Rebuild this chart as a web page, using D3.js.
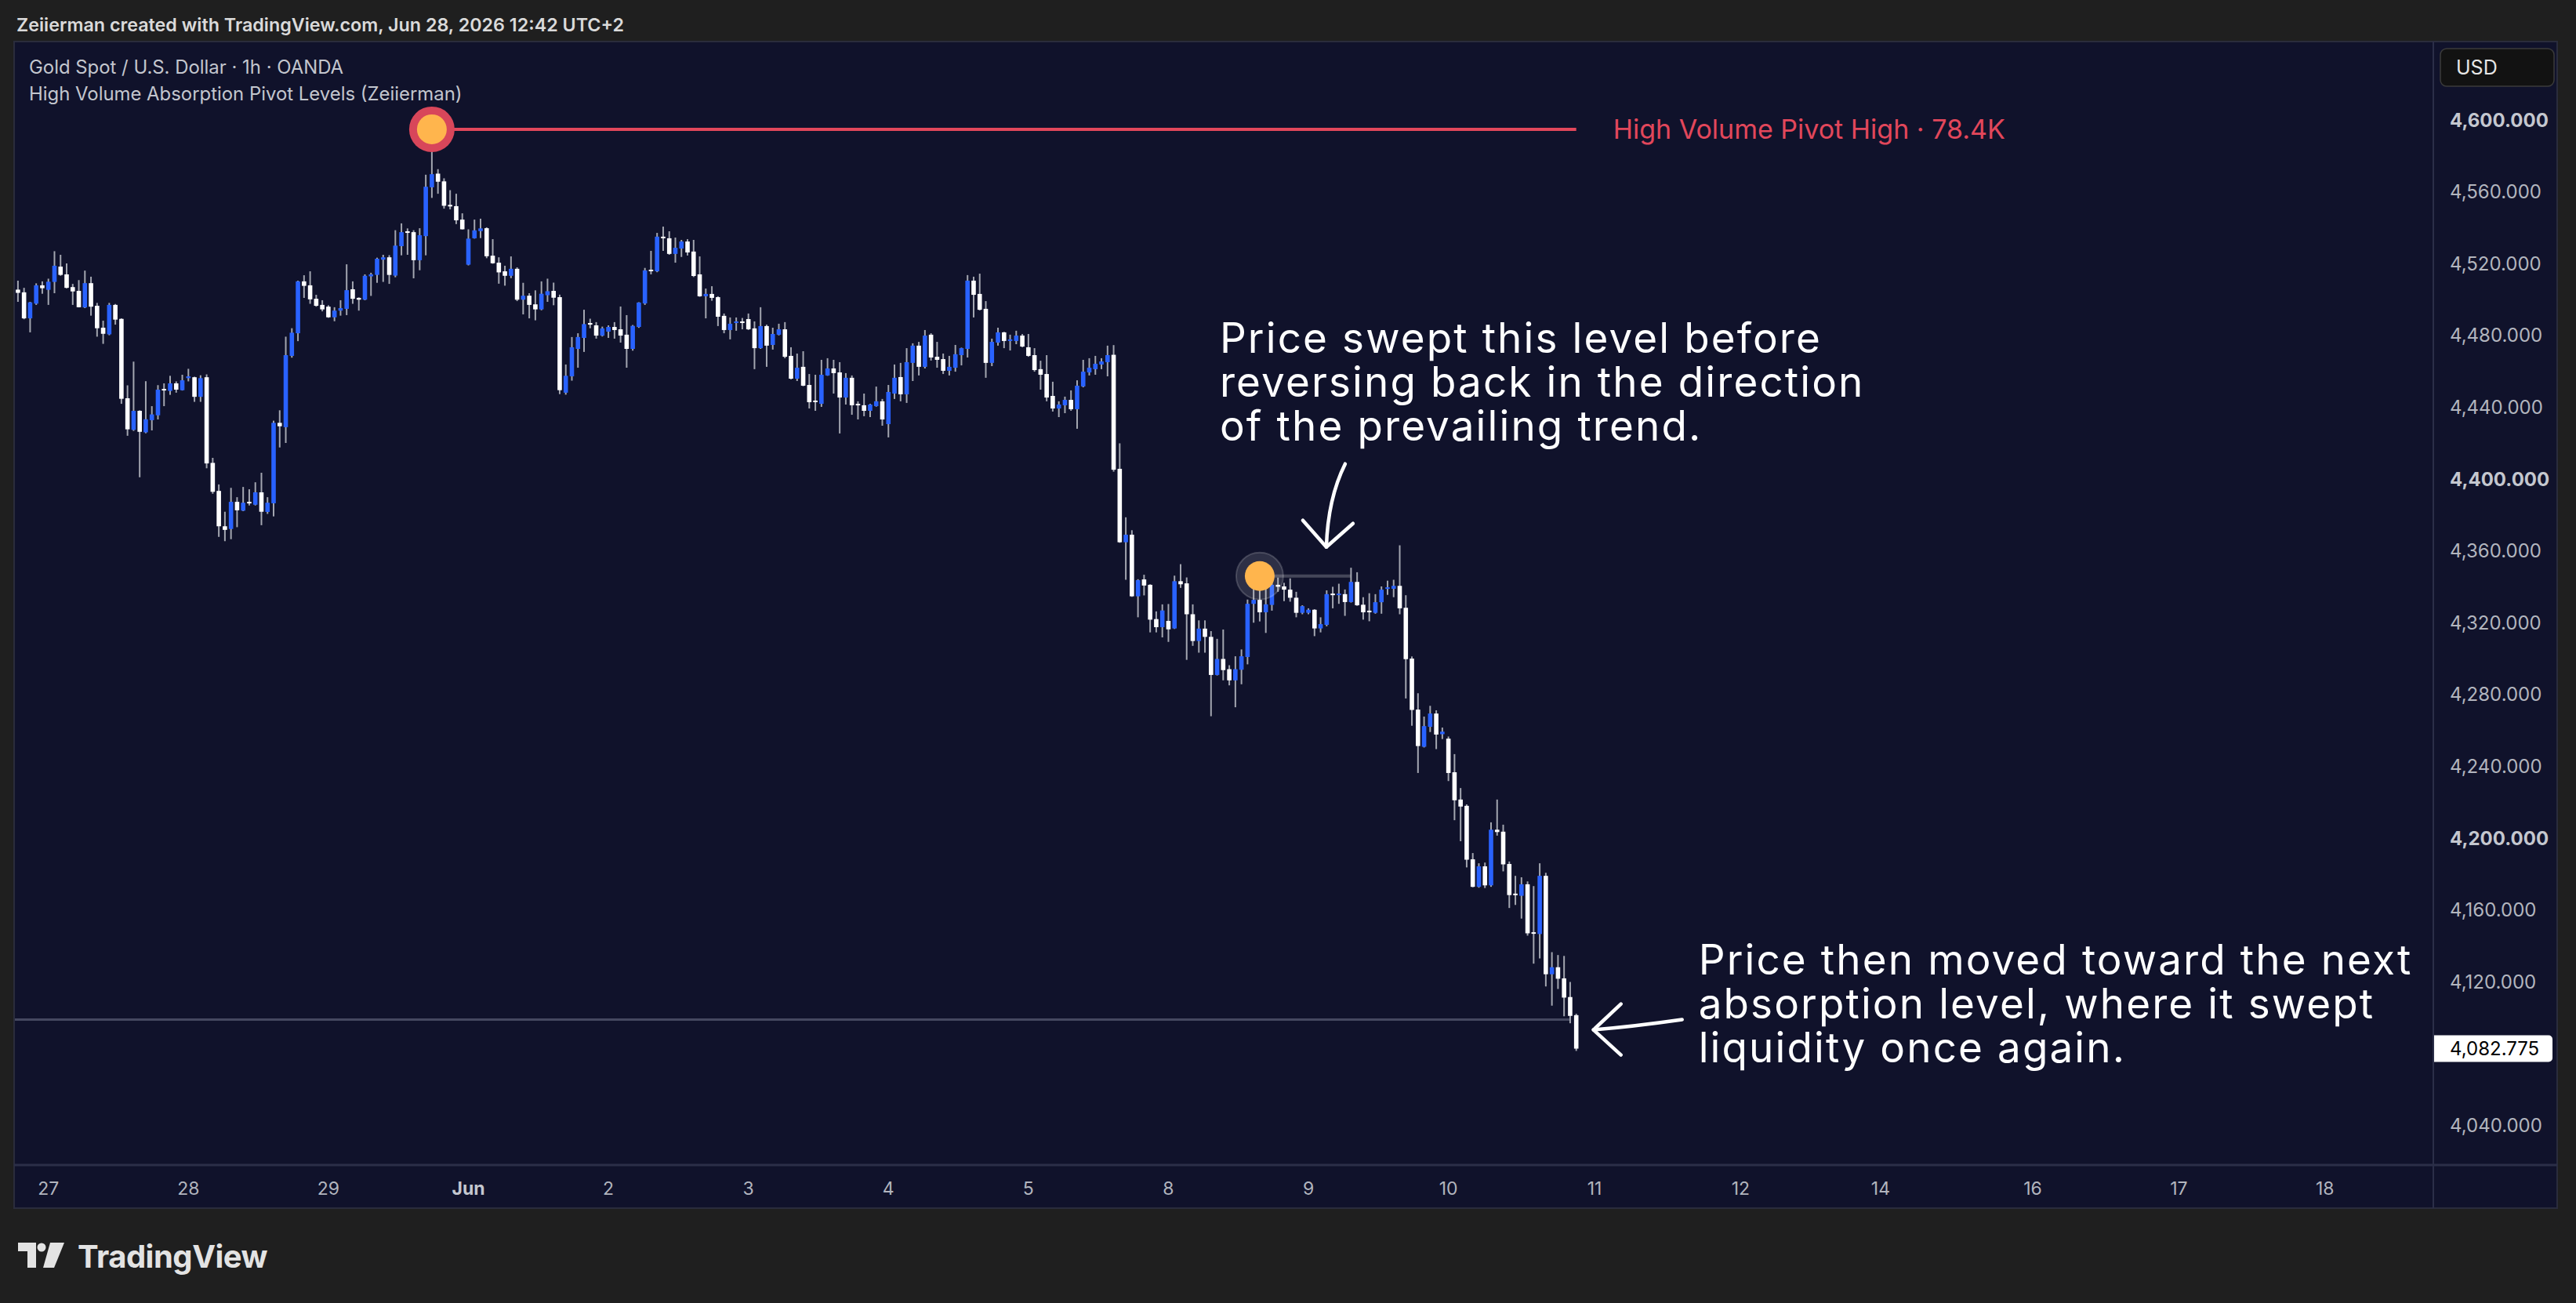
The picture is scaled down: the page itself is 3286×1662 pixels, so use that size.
<!DOCTYPE html>
<html lang="en">
<head>
  <meta charset="UTF-8">
  <title>Gold Spot / U.S. Dollar · 1h · OANDA</title>
  <style>
    body { margin: 0; background: #1f1f1f; overflow: hidden; }
    svg text { font-family: Inter, "Noto Sans", sans-serif; }
    .axis-label { font-size: 24px; fill: #b2b5be; }
    .axis-label.bold { font-weight: 700; fill: #c4c7cf; }
    .time-label { font-size: 23px; fill: #b2b5be; }
    .time-label.bold { font-weight: 700; fill: #c4c7cf; }
    .note { font-size: 53px; fill: #ffffff; letter-spacing: 2.1px; }
  </style>
</head>
<body>
  <svg id="chart"></svg>

  <script src="https://d3js.org/d3.v7.min.js"></script>
  <script>
    // hourly candles, first one sits 5 bars before the "27" label
    const firstBar = -5;
    const opens = [
      4505.5, 4504.0, 4489.5, 4497.7, 4507.9, 4505.4, 4509.8, 4518.3, 4514.0, 4506.9,
      4504.8, 4495.6, 4509.1, 4496.5, 4484.3, 4480.6, 4497.0, 4489.2, 4445.0, 4427.4,
      4438.0, 4426.0, 4432.8, 4435.5, 4450.2, 4449.1, 4453.3, 4449.5, 4456.2, 4456.7,
      4445.8, 4456.7, 4409.0, 4393.4, 4373.7, 4372.2, 4387.3, 4382.4, 4387.3, 4385.7,
      4392.6, 4381.7, 4386.5, 4431.3, 4428.9, 4468.6, 4481.2, 4510.1, 4507.9, 4500.4,
      4497.0, 4496.0, 4490.1, 4493.8, 4494.8, 4505.7, 4500.9, 4499.9, 4512.9, 4513.7,
      4522.2, 4523.5, 4513.3, 4529.7, 4538.0, 4537.5, 4521.9, 4535.3, 4562.5, 4570.1,
      4565.8, 4552.7, 4552.0, 4544.5, 4519.4, 4534.1, 4538.1, 4539.7, 4524.4, 4520.5,
      4515.7, 4513.2, 4517.1, 4499.9, 4502.1, 4497.3, 4494.5, 4502.4, 4504.8, 4501.3,
      4448.1, 4457.2, 4472.5, 4478.6, 4486.9, 4485.6, 4479.9, 4482.1, 4484.7, 4483.4,
      4480.4, 4472.5, 4484.7, 4497.8, 4516.6, 4515.7, 4535.0, 4534.1, 4525.4, 4528.4,
      4532.3, 4526.7, 4514.0, 4501.8, 4503.1, 4501.3, 4490.9, 4483.0, 4486.9, 4487.8,
      4489.1, 4483.9, 4472.9, 4485.2, 4474.7, 4480.4, 4483.4, 4468.6, 4455.9, 4462.5,
      4452.4, 4443.7, 4441.9, 4457.7, 4461.6, 4459.4, 4445.4, 4456.4, 4441.9, 4441.1,
      4438.0, 4440.6, 4443.3, 4430.6, 4447.6, 4456.8, 4447.2, 4464.7, 4474.3, 4462.5,
      4480.4, 4468.1, 4466.8, 4460.3, 4462.0, 4469.0, 4472.5, 4510.5, 4503.1, 4494.8,
      4464.7, 4476.0, 4481.7, 4476.9, 4476.9, 4479.9, 4473.4, 4469.0, 4461.2, 4458.5,
      4446.3, 4439.3, 4441.1, 4444.1, 4438.9, 4451.6, 4459.4, 4461.2, 4463.8, 4465.1,
      4469.2, 4405.7, 4364.8, 4369.0, 4334.7, 4344.1, 4341.1, 4322.0, 4317.5, 4321.0,
      4316.8, 4343.1, 4341.9, 4324.7, 4309.8, 4316.7, 4312.1, 4290.9, 4299.8, 4294.1,
      4287.9, 4293.8, 4300.9, 4330.5, 4332.7, 4325.8, 4329.9, 4341.1, 4340.2, 4338.4,
      4333.9, 4325.5, 4325.5, 4327.2, 4316.8, 4318.8, 4336.2, 4335.7, 4335.9, 4331.5,
      4342.7, 4330.0, 4326.7, 4325.5, 4331.4, 4338.9, 4338.9, 4340.5, 4328.3, 4300.0,
      4271.6, 4250.9, 4262.0, 4269.4, 4257.9, 4255.4, 4236.7, 4221.5, 4218.0, 4188.2,
      4172.9, 4184.3, 4173.7, 4204.7, 4203.6, 4185.6, 4169.1, 4167.9, 4174.3, 4147.6,
      4146.6, 4179.0, 4124.2, 4128.1, 4121.9, 4111.5, 4101.4
    ];
    const highs = [
      4510.5, 4506.5, 4498.7, 4509.0, 4510.1, 4511.6, 4526.9, 4524.9, 4520.1, 4508.7,
      4510.8, 4516.1, 4512.7, 4498.1, 4488.2, 4498.1, 4497.5, 4489.5, 4452.2, 4465.4,
      4438.3, 4454.5, 4440.6, 4452.3, 4453.3, 4457.5, 4454.4, 4458.1, 4461.4, 4457.0,
      4457.8, 4458.3, 4411.8, 4397.0, 4381.8, 4395.1, 4389.9, 4395.6, 4394.3, 4398.2,
      4403.5, 4389.9, 4432.5, 4438.3, 4479.3, 4484.0, 4510.5, 4513.5, 4515.7, 4502.6,
      4499.6, 4496.8, 4495.7, 4499.6, 4519.6, 4510.1, 4501.2, 4514.0, 4514.9, 4523.3,
      4524.9, 4524.7, 4538.6, 4542.4, 4539.6, 4538.6, 4539.7, 4569.5, 4594.8, 4572.6,
      4567.5, 4560.9, 4558.9, 4548.0, 4539.1, 4544.5, 4545.0, 4540.2, 4533.6, 4523.5,
      4518.8, 4524.0, 4517.9, 4509.3, 4503.5, 4505.1, 4510.1, 4511.6, 4509.4, 4502.7,
      4463.8, 4479.1, 4481.2, 4494.3, 4489.3, 4487.4, 4484.9, 4485.6, 4487.4, 4496.1,
      4491.3, 4485.8, 4498.5, 4517.6, 4527.1, 4537.1, 4540.6, 4538.0, 4534.5, 4533.2,
      4533.6, 4533.2, 4524.0, 4506.1, 4507.4, 4501.8, 4492.2, 4490.0, 4490.0, 4489.7,
      4492.2, 4487.8, 4495.7, 4486.0, 4484.3, 4486.5, 4487.4, 4473.4, 4469.9, 4471.2,
      4458.5, 4458.1, 4466.4, 4467.3, 4466.4, 4465.1, 4459.0, 4457.7, 4443.3, 4447.6,
      4441.9, 4451.5, 4444.6, 4452.4, 4463.8, 4464.7, 4472.9, 4475.6, 4476.4, 4483.0,
      4481.2, 4476.4, 4469.9, 4468.6, 4474.7, 4473.2, 4513.6, 4512.7, 4514.4, 4499.1,
      4478.2, 4484.3, 4482.0, 4480.4, 4482.6, 4480.8, 4480.8, 4472.9, 4465.9, 4469.0,
      4454.2, 4443.3, 4445.9, 4449.4, 4455.0, 4466.4, 4467.3, 4468.6, 4467.3, 4474.3,
      4474.6, 4419.9, 4378.7, 4371.5, 4344.2, 4346.7, 4341.4, 4326.3, 4330.2, 4330.4,
      4346.2, 4352.6, 4345.2, 4330.2, 4321.3, 4321.3, 4315.3, 4311.0, 4316.2, 4296.3,
      4301.3, 4305.1, 4332.9, 4338.9, 4346.0, 4339.2, 4345.6, 4345.1, 4342.2, 4344.7,
      4337.2, 4329.7, 4328.0, 4327.5, 4323.0, 4338.0, 4340.0, 4341.7, 4338.5, 4350.6,
      4348.1, 4334.2, 4336.4, 4335.9, 4340.2, 4343.4, 4343.9, 4363.1, 4335.3, 4301.2,
      4280.7, 4267.7, 4273.7, 4271.2, 4261.6, 4256.6, 4246.8, 4227.9, 4218.8, 4191.7,
      4186.0, 4186.4, 4208.8, 4221.5, 4207.5, 4187.0, 4179.0, 4178.2, 4175.9, 4173.3,
      4186.0, 4180.7, 4136.5, 4134.9, 4134.4, 4119.9, 4102.2
    ];
    const lows = [
      4498.7, 4489.0, 4481.7, 4497.0, 4503.2, 4497.0, 4503.5, 4513.2, 4506.2, 4497.0,
      4495.6, 4495.2, 4491.0, 4479.3, 4475.3, 4480.1, 4486.0, 4441.9, 4424.1, 4426.8,
      4401.0, 4425.5, 4427.1, 4433.2, 4440.6, 4446.9, 4448.1, 4449.3, 4454.4, 4443.0,
      4443.0, 4406.0, 4391.8, 4367.8, 4365.4, 4366.5, 4373.2, 4382.1, 4385.3, 4385.3,
      4374.3, 4380.6, 4379.2, 4417.6, 4420.1, 4467.6, 4476.8, 4500.9, 4497.6, 4496.0,
      4493.4, 4489.8, 4487.9, 4491.0, 4491.3, 4497.6, 4493.8, 4499.6, 4502.0, 4509.3,
      4509.8, 4508.7, 4512.4, 4524.6, 4524.9, 4511.8, 4516.3, 4524.6, 4556.6, 4558.9,
      4550.6, 4550.2, 4542.0, 4539.0, 4519.0, 4533.9, 4534.2, 4523.0, 4519.9, 4508.8,
      4507.7, 4511.9, 4499.1, 4491.7, 4489.5, 4488.4, 4494.0, 4498.7, 4496.8, 4447.3,
      4447.0, 4454.8, 4462.0, 4470.8, 4484.0, 4478.2, 4479.4, 4478.6, 4478.2, 4476.0,
      4462.0, 4471.5, 4484.2, 4497.0, 4514.0, 4515.2, 4527.1, 4524.9, 4520.5, 4523.7,
      4524.5, 4512.5, 4501.5, 4489.5, 4499.3, 4485.2, 4481.2, 4477.8, 4482.6, 4483.4,
      4483.0, 4461.2, 4472.5, 4462.5, 4472.1, 4480.0, 4467.3, 4455.5, 4454.6, 4451.7,
      4439.3, 4438.0, 4440.2, 4457.5, 4447.6, 4425.4, 4441.5, 4435.8, 4433.2, 4435.0,
      4434.5, 4440.3, 4429.7, 4423.2, 4444.6, 4443.3, 4442.4, 4454.6, 4457.7, 4461.6,
      4466.0, 4462.0, 4458.5, 4457.7, 4459.8, 4463.3, 4467.7, 4490.0, 4493.9, 4456.4,
      4462.9, 4474.3, 4472.9, 4471.6, 4475.1, 4473.4, 4468.1, 4459.8, 4449.8, 4443.3,
      4437.6, 4434.5, 4436.7, 4438.0, 4428.0, 4451.1, 4457.7, 4458.1, 4461.2, 4457.2,
      4404.1, 4364.5, 4343.9, 4334.4, 4323.0, 4335.2, 4314.6, 4314.6, 4311.8, 4309.3,
      4316.5, 4339.4, 4299.3, 4307.1, 4303.3, 4303.3, 4267.9, 4290.6, 4287.9, 4285.1,
      4272.9, 4285.7, 4296.8, 4320.0, 4320.7, 4314.3, 4326.7, 4337.2, 4332.0, 4331.7,
      4323.0, 4324.7, 4324.7, 4312.5, 4314.6, 4318.0, 4328.0, 4330.5, 4323.8, 4331.2,
      4329.4, 4321.7, 4320.8, 4325.0, 4325.0, 4335.5, 4334.2, 4324.7, 4277.8, 4262.6,
      4236.3, 4250.5, 4259.1, 4249.6, 4255.2, 4231.8, 4210.0, 4198.3, 4183.7, 4172.6,
      4172.4, 4172.2, 4172.9, 4201.4, 4181.5, 4161.1, 4162.8, 4155.2, 4145.7, 4130.1,
      4133.0, 4117.4, 4106.7, 4116.0, 4100.8, 4096.9, 4081.5
    ];
    const closes = [
      4503.7, 4489.5, 4498.4, 4507.9, 4506.3, 4509.9, 4518.8, 4513.7, 4506.5, 4504.5,
      4495.7, 4509.1, 4496.0, 4484.0, 4480.9, 4497.0, 4488.8, 4444.7, 4427.7, 4438.0,
      4426.3, 4433.3, 4436.0, 4449.8, 4449.5, 4453.3, 4449.8, 4455.0, 4457.2, 4445.8,
      4456.2, 4408.7, 4392.9, 4373.7, 4371.7, 4387.3, 4382.6, 4386.8, 4386.5, 4392.6,
      4381.8, 4386.8, 4431.3, 4429.4, 4469.0, 4481.5, 4510.1, 4507.6, 4500.1, 4496.5,
      4494.5, 4490.1, 4493.8, 4495.2, 4505.2, 4500.4, 4499.9, 4513.2, 4514.0, 4522.7,
      4523.5, 4513.7, 4530.0, 4537.5, 4537.1, 4521.9, 4535.8, 4562.8, 4569.8, 4565.6,
      4552.2, 4552.2, 4544.1, 4539.1, 4533.9, 4538.5, 4539.6, 4524.1, 4520.2, 4515.1,
      4513.2, 4517.1, 4499.9, 4502.1, 4497.0, 4494.5, 4503.2, 4504.6, 4501.0, 4449.5,
      4457.5, 4473.4, 4479.1, 4486.3, 4486.0, 4479.9, 4483.9, 4484.7, 4483.0, 4479.9,
      4472.5, 4485.3, 4498.3, 4516.2, 4515.9, 4535.0, 4534.1, 4525.4, 4528.8, 4532.3,
      4526.2, 4513.1, 4501.8, 4503.1, 4500.9, 4490.4, 4483.0, 4486.5, 4487.8, 4486.9,
      4483.4, 4472.9, 4485.2, 4474.3, 4480.8, 4483.4, 4468.1, 4455.9, 4462.0, 4452.0,
      4442.8, 4443.0, 4458.1, 4461.6, 4459.0, 4445.4, 4456.4, 4441.1, 4441.1, 4438.0,
      4441.5, 4443.3, 4433.2, 4448.5, 4456.4, 4447.2, 4465.1, 4474.3, 4462.5, 4479.9,
      4467.7, 4466.4, 4460.3, 4462.5, 4469.5, 4472.9, 4510.5, 4502.6, 4494.3, 4464.7,
      4476.4, 4481.7, 4476.9, 4477.8, 4479.9, 4473.8, 4468.6, 4460.7, 4458.1, 4445.4,
      4439.3, 4441.5, 4444.1, 4438.9, 4452.0, 4459.8, 4462.0, 4464.2, 4465.5, 4469.0,
      4405.2, 4364.8, 4369.0, 4334.7, 4343.7, 4340.7, 4321.7, 4317.5, 4326.8, 4316.3,
      4343.1, 4341.4, 4324.7, 4309.8, 4316.7, 4312.1, 4290.9, 4299.8, 4293.6, 4287.9,
      4294.1, 4301.3, 4330.5, 4332.7, 4325.8, 4330.2, 4341.1, 4340.0, 4338.4, 4333.9,
      4325.5, 4329.2, 4327.2, 4316.8, 4319.2, 4335.9, 4335.7, 4336.2, 4331.5, 4342.7,
      4329.7, 4325.8, 4325.8, 4331.4, 4338.4, 4339.7, 4340.5, 4328.0, 4299.7, 4271.4,
      4251.3, 4262.4, 4269.4, 4257.7, 4259.3, 4236.3, 4221.1, 4217.6, 4188.0, 4172.9,
      4184.3, 4173.7, 4204.7, 4203.4, 4185.4, 4168.3, 4168.3, 4174.3, 4147.0, 4147.0,
      4179.0, 4124.2, 4128.1, 4121.7, 4111.2, 4101.0, 4082.775
    ];

    // time axis: bar index of each day label (future bars continue past the last candle)
    const dayTickBars = [0, 23, 46, 69, 92, 115, 138, 161, 184, 207, 230, 254, 278, 301, 326, 350, 374];
    const dayTickLabels = ["27", "28", "29", "Jun", "2", "3", "4", "5", "8", "9", "10", "11", "12", "14", "16", "17", "18"];

    // price axis (4,080 is hidden behind the last price tag)
    const priceTicks = [4600, 4560, 4520, 4480, 4440, 4400, 4360, 4320, 4280, 4240, 4200, 4160, 4120, 4040];
    const boldPriceTicks = [4600, 4400, 4200];

    // indicator levels
    const pivotHighBar = 63, pivotHighPrice = 4594.8, pivotHighVolume = "78.4K";
    const sweptPivotBar = 199, sweptPivotPrice = 4346.0, sweptPivotEndBar = 214;
    const lowerLevelPrice = 4098.9, lowerLevelEndBar = 250;

    const note1 = ["Price swept this level before", "reversing back in the direction", "of the prevailing trend."];
    const note2 = ["Price then moved toward the next", "absorption level, where it swept", "liquidity once again."];

    const W = 3286, H = 1662;
    const plot = { left: 19, right: 3104, top: 54, bottom: 1486 };
    const panel = { left: 18, top: 53, right: 3262, bottom: 1541 };

    const svg = d3.select("#chart").attr("width", W).attr("height", H);

    const x = d3.scaleLinear().domain([-5.5, 391.8]).range([plot.left, plot.right]);
    const y = d3.scaleLinear().domain([4040, 4600]).range([1435.5, 153]);
    const fmt = d3.format(",.3f");

    const candles = opens.map((o, k) => ({
      bar: firstBar + k, o, h: highs[k], l: lows[k], c: closes[k]
    }));
    const last = candles[candles.length - 1];

    // panel
    svg.append("rect")
      .attr("x", panel.left).attr("y", panel.top)
      .attr("width", panel.right - panel.left).attr("height", panel.bottom - panel.top)
      .attr("fill", "#10122b").attr("stroke", "#2a2c3c").attr("stroke-width", 2);

    svg.append("line")
      .attr("x1", plot.right).attr("x2", plot.right)
      .attr("y1", panel.top).attr("y2", panel.bottom)
      .attr("stroke", "#2b2e48").attr("stroke-width", 2);
    svg.append("line")
      .attr("x1", panel.left).attr("x2", panel.right)
      .attr("y1", plot.bottom).attr("y2", plot.bottom)
      .attr("stroke", "#2b2e48").attr("stroke-width", 3);

    svg.append("clipPath").attr("id", "plot-clip")
      .append("rect")
      .attr("x", plot.left).attr("y", plot.top)
      .attr("width", plot.right - plot.left).attr("height", plot.bottom - plot.top);

    const g = svg.append("g").attr("clip-path", "url(#plot-clip)");

    // levels behind the candles
    g.append("line")
      .attr("x1", plot.left).attr("x2", x(lowerLevelEndBar))
      .attr("y1", y(lowerLevelPrice)).attr("y2", y(lowerLevelPrice))
      .attr("stroke", "#454860").attr("stroke-width", 3);

    g.append("line")
      .attr("x1", x(pivotHighBar)).attr("x2", x(last.bar))
      .attr("y1", y(pivotHighPrice)).attr("y2", y(pivotHighPrice))
      .attr("stroke", "#e2475b").attr("stroke-width", 4);

    g.append("line")
      .attr("x1", x(sweptPivotBar)).attr("x2", x(sweptPivotEndBar))
      .attr("y1", y(sweptPivotPrice)).attr("y2", y(sweptPivotPrice))
      .attr("stroke", "rgba(255,255,255,0.22)").attr("stroke-width", 4);

    // candles
    const bodyW = 5.6;
    const cg = g.append("g");
    cg.selectAll(".wick")
      .data(candles)
      .join("line")
      .attr("class", "wick")
      .attr("x1", d => x(d.bar)).attr("x2", d => x(d.bar))
      .attr("y1", d => y(d.h)).attr("y2", d => y(d.l))
      .attr("stroke", "#a3a6b0").attr("stroke-width", 2);

    cg.selectAll(".body")
      .data(candles)
      .join("rect")
      .attr("class", "body")
      .attr("x", d => x(d.bar) - bodyW / 2)
      .attr("y", d => y(Math.max(d.o, d.c)))
      .attr("width", bodyW)
      .attr("height", d => Math.max(2, Math.abs(y(d.o) - y(d.c))))
      .attr("fill", d => d.c >= d.o ? "#2962ff" : "#ffffff");

    // pivot markers
    g.append("circle")
      .attr("cx", x(pivotHighBar)).attr("cy", y(pivotHighPrice)).attr("r", 29)
      .attr("fill", "#d8465a");
    g.append("circle")
      .attr("cx", x(pivotHighBar)).attr("cy", y(pivotHighPrice)).attr("r", 19)
      .attr("fill", "#ffb54d");

    g.append("circle")
      .attr("cx", x(sweptPivotBar)).attr("cy", y(sweptPivotPrice)).attr("r", 30)
      .attr("fill", "rgba(255,255,255,0.13)")
      .attr("stroke", "rgba(255,255,255,0.18)").attr("stroke-width", 2);
    g.append("circle")
      .attr("cx", x(sweptPivotBar)).attr("cy", y(sweptPivotPrice)).attr("r", 19)
      .attr("fill", "#ffb54d");

    svg.append("text")
      .attr("x", x(last.bar) + 47).attr("y", y(pivotHighPrice) + 12)
      .attr("font-size", 34).attr("fill", "#e2475b")
      .text(`High Volume Pivot High · ${pivotHighVolume}`);

    // annotations, each one a single text block
    const px = x(sweptPivotBar), py = y(sweptPivotPrice);
    const lx = x(last.bar), ly = y(last.c);

    function note(lines, nx, ny) {
      svg.append("text").attr("class", "note")
        .selectAll("tspan").data(lines).join("tspan")
        .attr("x", nx).attr("y", (d, i) => ny + i * 56)
        .text(d => d);
    }
    note(note1, px - 51, py - 285);
    note(note2, lx + 156, ly - 95);

    const arrowStyle = sel => sel.attr("fill", "none").attr("stroke", "#ffffff")
      .attr("stroke-width", 4.5).attr("stroke-linecap", "round").attr("stroke-linejoin", "round");

    const a1 = svg.append("g").attr("transform", `translate(${px + 85},${py - 37})`);
    a1.append("path").attr("d", "M24,-106 Q2,-62 0,0").call(arrowStyle);
    a1.append("path").attr("d", "M-30,-34 L0,0 L34,-30").call(arrowStyle);

    const a2 = svg.append("g").attr("transform", `translate(${lx + 22},${ly - 24})`);
    a2.append("path").attr("d", "M113,-13 Q50,-4 0,0").call(arrowStyle);
    a2.append("path").attr("d", "M35,-33 L0,0 L35,32").call(arrowStyle);

    // price axis
    svg.append("g").selectAll("text").data(priceTicks).join("text")
      .attr("class", d => boldPriceTicks.includes(d) ? "axis-label bold" : "axis-label")
      .attr("x", 3125).attr("y", d => y(d)).attr("dy", "0.36em")
      .text(d => fmt(d));

    svg.append("rect")
      .attr("x", 3113).attr("y", 62).attr("width", 145).attr("height", 48).attr("rx", 8)
      .attr("fill", "#121212").attr("stroke", "#3b3b3b").attr("stroke-width", 1.5);
    svg.append("text")
      .attr("x", 3133).attr("y", 95).attr("font-size", 25).attr("fill", "#e6e6e6")
      .text("USD");

    svg.append("path")
      .attr("d", `M${plot.right + 1},${ly - 17} h146 a5,5 0 0 1 5,5 v24 a5,5 0 0 1 -5,5 h-146 z`)
      .attr("fill", "#ffffff");
    svg.append("text")
      .attr("x", 3125).attr("y", ly).attr("dy", "0.36em")
      .attr("font-size", 24).attr("fill", "#000000")
      .text(fmt(last.c));

    // time axis
    svg.append("g").selectAll("text").data(dayTickBars).join("text")
      .attr("class", (d, i) => dayTickLabels[i] === "Jun" ? "time-label bold" : "time-label")
      .attr("x", d => x(d)).attr("y", 1524)
      .attr("text-anchor", "middle")
      .text((d, i) => dayTickLabels[i]);

    // header and legend
    svg.append("text")
      .attr("x", 21).attr("y", 40).attr("font-size", 23.3).attr("font-weight", 600).attr("fill", "#dadada")
      .text("Zeiierman created with TradingView.com, Jun 28, 2026 12:42 UTC+2");
    svg.append("text")
      .attr("x", 37).attr("y", 94).attr("font-size", 23.9).attr("fill", "#c3c6ce")
      .text("Gold Spot / U.S. Dollar · 1h · OANDA");
    svg.append("text")
      .attr("x", 37).attr("y", 128).attr("font-size", 23.9).attr("fill", "#c3c6ce")
      .text("High Volume Absorption Pivot Levels (Zeiierman)");

    // footer logo
    const logo = svg.append("g").attr("fill", "#e3e3e3");
    logo.append("path").attr("d", "M23,1585 H46 V1617 H35 V1596 H23 Z");
    logo.append("circle").attr("cx", 53).attr("cy", 1591).attr("r", 5.5);
    logo.append("path").attr("d", "M64,1585 H82 L69,1617 H55 Z");
    logo.append("text")
      .attr("x", 99).attr("y", 1617).attr("font-size", 40).attr("font-weight", 700)
      .attr("letter-spacing", -0.5)
      .text("TradingView");
  </script>
</body>
</html>
